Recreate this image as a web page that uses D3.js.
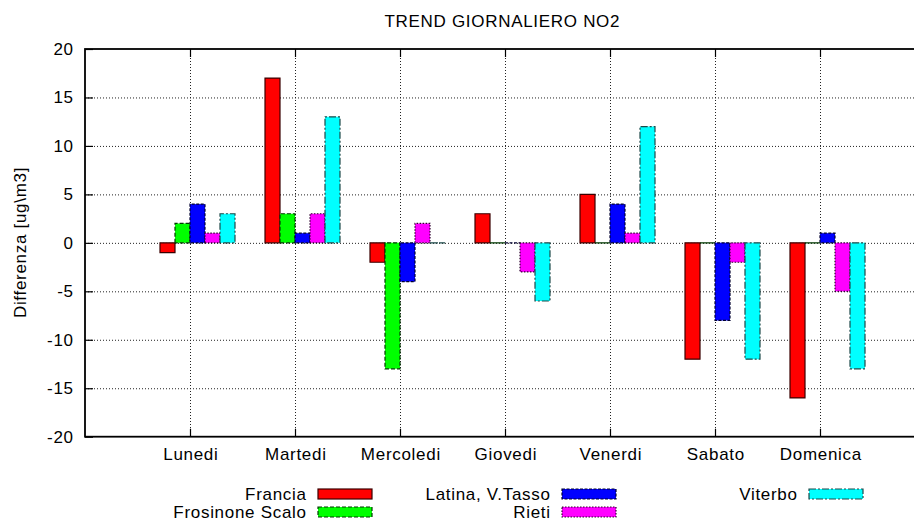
<!DOCTYPE html>
<html>
<head>
<meta charset="utf-8">
<script src="https://cdn.jsdelivr.net/npm/d3@7"></script>
<style>
  html, body { margin: 0; padding: 0; background: #fff; }
  svg { display: block; }
  text { font-family: "Liberation Sans", Arial, sans-serif; font-size: 17px; letter-spacing: 0.7px; fill: #000; }
</style>
</head>
<body>
<svg id="chart" width="914" height="521"></svg>
<script>
// ---- data ----
const categories = ["Lunedi", "Martedi", "Mercoledi", "Giovedi", "Venerdi", "Sabato", "Domenica"];
const seriesNames = ["Francia", "Frosinone Scalo", "Latina, V.Tasso", "Rieti", "Viterbo"];
const francia    = [-1, 17, -2,  3,  5, -12, -16];
const frosinone  = [ 2,  3, -13, 0,  0,   0,   0];
const latina     = [ 4,  1, -4,  0,  4,  -8,   1];
const rieti      = [ 1,  3,  2, -3,  1,  -2,  -5];
const viterbo    = [ 3, 13,  0, -6, 12, -12, -13];
const yTicks = [-20, -15, -10, -5, 0, 5, 10, 15, 20];
const titleText = "TREND GIORNALIERO NO2";
const yLabelText = "Differenza [ug\\m3]";

const seriesValues = [francia, frosinone, latina, rieti, viterbo];
const fills   = ["#ff0000", "#00ff00", "#0000ff", "#ff00ff", "#00ffff"];
const strokes = ["#3a0000", "#003a00", "#000030", "#300030", "#1d4a4a"];
const dashes  = [null, "4,2", "3,1.5", "1.5,1.5", "7,2,2,2"];

const LS = 0.7;
const svg = d3.select("#chart");
const pL = 85, pR = 925, pT = 49, pB = 436.7;

const x = d3.scaleLinear().domain([-1, 7]).range([pL, pR]);
const y = d3.scaleLinear().domain([-20, 20]).range([pB, pT]);
const nS = seriesValues.length;
const barUnit = 1 / (nS + 2);

// grid
const gridY = svg.append("g").attr("transform", `translate(${pL},0)`)
  .call(d3.axisRight(y).tickValues(yTicks.filter(v => v > -20 && v < 20)).tickSize(pR - pL).tickFormat(""));
gridY.select(".domain").remove();
gridY.selectAll("line").attr("stroke", "#222").attr("stroke-dasharray", "1,2");

const gridX = svg.append("g").attr("transform", `translate(0,${pT})`)
  .call(d3.axisBottom(x).tickValues(d3.range(categories.length)).tickSize(pB - pT).tickFormat(""));
gridX.select(".domain").remove();
gridX.selectAll("line").attr("stroke", "#222").attr("stroke-dasharray", "1,2");

// bars (drawn as closed paths so zero-value bars still show their outline)
seriesValues.forEach((vals, j) => {
  svg.append("g").selectAll("path").data(vals).join("path")
    .attr("d", (d, i) => {
      const x0 = x(i + (j - 2) * barUnit), x1 = x(i + (j - 1) * barUnit);
      const y0 = y(0), y1 = y(d);
      return `M${x0},${y0}L${x0},${y1}L${x1},${y1}L${x1},${y0}Z`;
    })
    .attr("fill", fills[j])
    .attr("stroke", strokes[j])
    .attr("stroke-width", 1.2)
    .attr("stroke-dasharray", dashes[j]);
});

// axes
const axL = svg.append("g").attr("transform", `translate(${pL},0)`)
  .call(d3.axisLeft(y).tickValues(yTicks).tickSizeInner(-8).tickSizeOuter(0).tickPadding(12).tickFormat(d => String(d)));
axL.select(".domain").remove();
axL.selectAll("line").attr("stroke", "#000").attr("stroke-width", 1.2);
axL.selectAll("text").attr("font-size", null).attr("font-family", null).attr("dx", LS);

const axR = svg.append("g").attr("transform", `translate(${pR},0)`)
  .call(d3.axisRight(y).tickValues(yTicks).tickSizeInner(-8).tickSizeOuter(0).tickFormat(""));
axR.select(".domain").remove();
axR.selectAll("line").attr("stroke", "#000").attr("stroke-width", 1.2);

const axB = svg.append("g").attr("transform", `translate(0,${pB})`)
  .call(d3.axisBottom(x).tickValues(d3.range(categories.length)).tickSizeInner(-8).tickSizeOuter(0).tickPadding(11).tickFormat(i => categories[i]));
axB.select(".domain").remove();
axB.selectAll("line").attr("stroke", "#000").attr("stroke-width", 1.2);
axB.selectAll("text").attr("font-size", null).attr("font-family", null).attr("dx", LS / 2);

const axT = svg.append("g").attr("transform", `translate(0,${pT})`)
  .call(d3.axisTop(x).tickValues(d3.range(categories.length)).tickSizeInner(-8).tickSizeOuter(0).tickFormat(""));
axT.select(".domain").remove();
axT.selectAll("line").attr("stroke", "#000").attr("stroke-width", 1.2);

// border
svg.append("rect").attr("x", pL).attr("y", pT).attr("width", pR - pL).attr("height", pB - pT)
  .attr("fill", "none").attr("stroke", "#000").attr("stroke-width", 1.8);

// title
svg.append("text").attr("x", (pL + pR) / 2 - 3).attr("y", 27).attr("text-anchor", "middle")
  .attr("dx", LS / 2).text(titleText);

// y label
svg.append("text").attr("transform", `translate(26,${(pT + pB) / 2}) rotate(-90)`)
  .attr("text-anchor", "middle").attr("dx", LS / 2).text(yLabelText);

// legend
const legendPos = [
  { col: 0, row: 0 }, { col: 0, row: 1 }, { col: 1, row: 0 }, { col: 1, row: 1 }, { col: 2, row: 0 }
];
const colX = [318, 562, 809];
const rowY = [494, 512];
const leg = svg.append("g");
seriesNames.forEach((name, j) => {
  const p = legendPos[j];
  const kx = colX[p.col], ky = rowY[p.row];
  leg.append("rect").attr("x", kx).attr("y", ky - 5).attr("width", 54).attr("height", 10)
    .attr("fill", fills[j]).attr("stroke", strokes[j]).attr("stroke-width", 1.2)
    .attr("stroke-dasharray", dashes[j]);
  leg.append("text").attr("x", kx - 12).attr("y", ky + 5.5).attr("text-anchor", "end")
    .attr("dx", LS).text(name);
});
</script>
</body>
</html>
